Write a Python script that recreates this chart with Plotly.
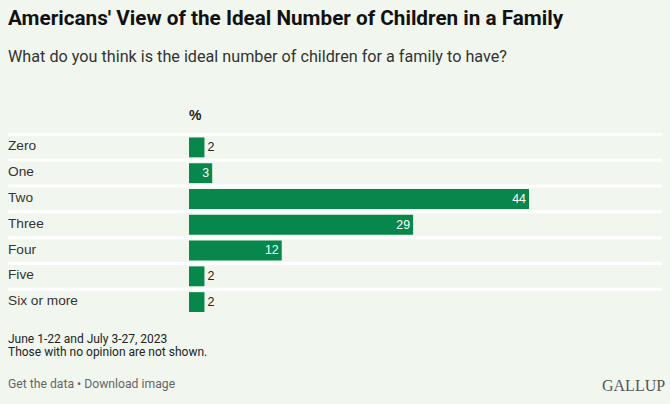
import plotly.graph_objects as go

categories = ["Zero", "One", "Two", "Three", "Four", "Five", "Six or more"]
values = [2, 3, 44, 29, 12, 2, 2]
text_positions = ["outside", "inside", "inside", "inside", "inside", "outside", "outside"]

BG = "#F1F7EF"
GREEN = "#07874B"
DARK = "#222222"
W, H = 670, 404
L, R, T, B = 189, 8, 133, 89
pw = W - L - R
px_per_unit = 340 / 44
xmax = pw / px_per_unit

def px_to_paper_x(px):
    return (px - L) / pw

def px_to_paper_y(py):
    return 1 - (py - T) / (H - T - B)

text_colors = ["white" if p == "inside" else DARK for p in text_positions]

fig = go.Figure(go.Bar(
    x=values, y=categories, orientation="h",
    marker=dict(color=GREEN, line=dict(width=0)),
    text=[str(v) for v in values],
    textposition=text_positions,
    insidetextanchor="end",
    textangle=0,
    textfont=dict(family="Liberation Sans, Arial", size=12.5, color=text_colors),
    cliponaxis=False,
    hoverinfo="skip",
))

shapes = []
for i in range(len(categories)):
    shapes.append(dict(type="line", xref="paper", yref="y",
                       x0=px_to_paper_x(8), x1=px_to_paper_x(662),
                       y0=i - 0.5, y1=i - 0.5,
                       line=dict(color="white", width=3), layer="below"))

annotations = []
for c in categories:
    annotations.append(dict(xref="paper", yref="y", x=px_to_paper_x(6), y=c,
                            text=c, showarrow=False, xanchor="left", yanchor="middle",
                            yshift=1.5,
                            font=dict(family="Liberation Sans, Arial", size=13.7, color="#333333")))

def ann(text, x, y, size, color=DARK, family="Roboto", xanchor="left", bold=False):
    if bold:
        text = "<b>" + text + "</b>"
    annotations.append(dict(xref="paper", yref="paper", x=px_to_paper_x(x), y=px_to_paper_y(y),
                            text=text, showarrow=False, xanchor=xanchor, yanchor="middle",
                            font=dict(family=family, size=size, color=color)))

ann("Americans' View of the Ideal Number of Children in a Family", 6, 18, 20.7, color="#111111", bold=True)
ann("What do you think is the ideal number of children for a family to have?", 6, 57, 16.2, color="#333333")
ann("%", 187, 115, 14, color="#222222", family="Liberation Sans, Arial", bold=True)
ann("June 1-22 and July 3-27, 2023", 6, 339, 12, color="#222222")
ann("Those with no opinion are not shown.", 6, 351.5, 12, color="#222222")
ann("Get the data \u2022 Download image", 6, 384, 12.2, color="#666666")
ann("GALLUP", 667, 385, 16, color="#555555", family="Liberation Serif, Times New Roman", xanchor="right")

fig.update_layout(
    width=W, height=H,
    margin=dict(l=L, r=R, t=T, b=B),
    paper_bgcolor=BG, plot_bgcolor=BG,
    bargap=0.23,
    showlegend=False,
    xaxis=dict(range=[0, xmax], visible=False, fixedrange=True),
    yaxis=dict(autorange="reversed", visible=False, fixedrange=True,
               categoryorder="array", categoryarray=categories),
    shapes=shapes,
    annotations=annotations,
    uniformtext=dict(mode=False),
)

fig.write_html("out.html", config={"displayModeBar": False},
               post_script="document.body.style.margin='0';document.body.style.overflow='hidden';")
